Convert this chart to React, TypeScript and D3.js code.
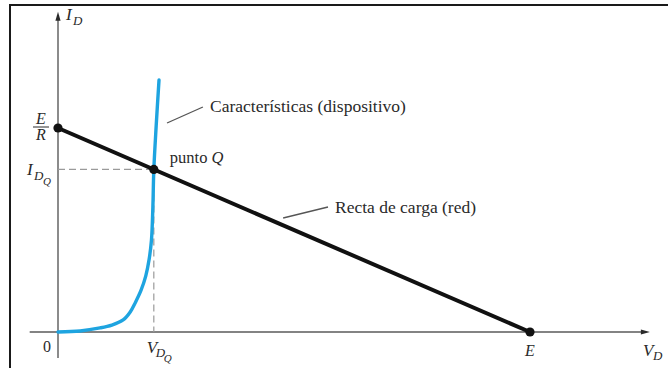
import { useEffect, useRef } from "react";
import * as d3 from "d3";

// supply voltage E and short-circuit current E/R (arbitrary units)
const supplyE = 10;
const currentER = 10;

// device characteristic
const diodeV = [0, 0.47, 0.89, 1.14, 1.38, 1.53, 1.64, 1.76, 1.86, 1.93, 1.98, 2.01, 2.03, 2.08, 2.14];
const diodeI = [0, 0.05, 0.2, 0.34, 0.59, 0.98, 1.45, 2.05, 2.75, 3.55, 4.5, 6.13, 7.94, 10.1, 12.35];

// operating point
const pointQ = { v: 2.03, i: 7.97 };

// axis extents
const xExtent = [-0.6, 12.54];
const yExtent = [-1.27, 15.7];

const W = 668;
const H = 368;
const serif = "'Liberation Serif', 'Times New Roman', serif";
const ink = "#2a2a2a";

const App = () => {
  const ref = useRef<SVGSVGElement | null>(null);

  useEffect(() => {
    if (!ref.current) return;
    const svg = d3.select(ref.current);
    svg.selectAll("*").remove();

    const x = d3.scaleLinear().domain([0, supplyE]).range([58, 530]);
    const y = d3.scaleLinear().domain([0, currentER]).range([332, 128]);

    // frame (top and left edges only)
    svg.append("path")
      .attr("d", `M10,${H} L10,5 L${W},5`)
      .attr("fill", "none")
      .attr("stroke", "#1a1a1a")
      .attr("stroke-width", 2);

    // axes
    const axisColor = "#5a5a5a";
    svg.append("line")
      .attr("x1", x(xExtent[0])).attr("x2", x(xExtent[1]) - 6)
      .attr("y1", y(0)).attr("y2", y(0))
      .attr("stroke", axisColor).attr("stroke-width", 1.4);
    svg.append("line")
      .attr("x1", x(0)).attr("x2", x(0))
      .attr("y1", y(yExtent[0])).attr("y2", y(yExtent[1]) + 6)
      .attr("stroke", axisColor).attr("stroke-width", 1.4);

    const xt = x(xExtent[1]);
    svg.append("path")
      .attr("d", `M${xt},${y(0)} L${xt - 9},${y(0) - 2.6} L${xt - 9},${y(0) + 2.6} Z`)
      .attr("fill", "#2a2a2a");
    const yt = y(yExtent[1]);
    svg.append("path")
      .attr("d", `M${x(0)},${yt} L${x(0) - 2.6},${yt + 9} L${x(0) + 2.6},${yt + 9} Z`)
      .attr("fill", "#2a2a2a");

    // dashed projections of Q
    svg.append("path")
      .attr("d", `M${x(0)},${y(pointQ.i)} L${x(pointQ.v)},${y(pointQ.i)} L${x(pointQ.v)},${y(0)}`)
      .attr("fill", "none")
      .attr("stroke", "#9a9a9a")
      .attr("stroke-width", 1.2)
      .attr("stroke-dasharray", "7,4");

    // leader lines
    const leader = (x1: number, y1: number, x2: number, y2: number) =>
      svg.append("line")
        .attr("x1", x1).attr("y1", y1).attr("x2", x2).attr("y2", y2)
        .attr("stroke", "#555").attr("stroke-width", 1.3);
    leader(x(2.31), 123, x(3.07), 107);
    leader(x(4.77), 218, x(5.72), 207);

    // device curve
    const pts = diodeV.map((v, k) => [v, diodeI[k]] as [number, number]);
    const line = d3.line<[number, number]>()
      .x(d => x(d[0]))
      .y(d => y(d[1]))
      .curve(d3.curveCatmullRom.alpha(0.5));
    svg.append("path")
      .attr("d", line(pts)!)
      .attr("fill", "none")
      .attr("stroke", "#1ea4e0")
      .attr("stroke-width", 3.4)
      .attr("stroke-linecap", "round");

    // load line
    svg.append("line")
      .attr("x1", x(0)).attr("y1", y(currentER))
      .attr("x2", x(supplyE)).attr("y2", y(0))
      .attr("stroke", "#111").attr("stroke-width", 4);

    const dots: [number, number][] = [[0, currentER], [supplyE, 0], [pointQ.v, pointQ.i]];
    svg.selectAll("circle.dot")
      .data(dots)
      .enter()
      .append("circle")
      .attr("class", "dot")
      .attr("cx", d => x(d[0]))
      .attr("cy", d => y(d[1]))
      .attr("r", 4.6)
      .attr("fill", "#111");

    // text helpers
    const txt = (s: string, px: number, py: number, size: number, italic = false, anchor = "start") =>
      svg.append("text")
        .attr("x", px).attr("y", py)
        .attr("font-family", serif)
        .attr("font-size", size)
        .attr("font-style", italic ? "italic" : "normal")
        .attr("text-anchor", anchor)
        .attr("fill", ink)
        .text(s);

    // I_D axis title
    txt("I", x(0) + 8, y(yExtent[1]) + 8, 17, true);
    txt("D", x(0) + 15, y(yExtent[1]) + 13, 13, true);

    // V_D axis title
    txt("V", x(xExtent[1]) - 7, 356, 17, true);
    txt("D", x(xExtent[1]) + 3, 360, 13, true);

    // E/R fraction
    txt("E", 41, y(currentER) - 4, 16, true, "middle");
    svg.append("line")
      .attr("x1", 33).attr("x2", 49)
      .attr("y1", y(currentER) - 1).attr("y2", y(currentER) - 1)
      .attr("stroke", ink).attr("stroke-width", 1);
    txt("R", 41, y(currentER) + 12, 16, true, "middle");

    // I_DQ
    txt("I", 27, y(pointQ.i) + 6, 17, true);
    txt("D", 34, y(pointQ.i) + 11, 13, true);
    txt("Q", 43, y(pointQ.i) + 16, 11, true);

    // 0, V_DQ, E
    txt("0", x(0) - 11, 352, 16, false, "middle");
    txt("V", x(pointQ.v) - 7, 353, 17, true);
    txt("D", x(pointQ.v) + 2, 357, 13, true);
    txt("Q", x(pointQ.v) + 10, 362, 11, true);
    txt("E", x(supplyE), 356, 16, true, "middle");

    // annotations
    txt("Características (dispositivo)", 210, 112, 17.5);
    const pq = txt("punto ", x(pointQ.v) + 16, y(pointQ.i) - 6, 16.5);
    pq.append("tspan").attr("font-style", "italic").text("Q");
    txt("Recta de carga (red)", 335, 213, 17.5);
  }, []);

  return (
    <svg
      ref={ref}
      width={W}
      height={H}
      viewBox={`0 0 ${W} ${H}`}
      style={{ position: "absolute", left: 0, top: 0, background: "#fff" }}
    />
  );
};

export default App;
